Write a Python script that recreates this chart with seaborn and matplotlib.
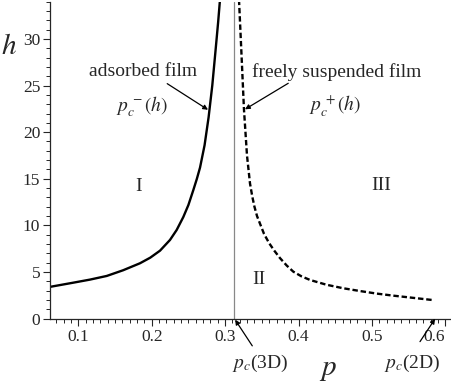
import numpy as np
import pandas as pd
import matplotlib
matplotlib.use("Agg")
import matplotlib.pyplot as plt
from matplotlib.ticker import MultipleLocator
import seaborn as sns

# -------------------------------------------------
# data
# -------------------------------------------------
# adsorbed film, p_c^-(h)
p_minus = [0.0614, 0.0932, 0.116, 0.1387, 0.161, 0.184, 0.198, 0.2113, 0.2249,
           0.234, 0.243, 0.250, 0.2567, 0.2615, 0.2658, 0.2720, 0.2775, 0.2825,
           0.2870, 0.2905, 0.2930]
h_minus = [3.42, 3.87, 4.20, 4.59, 5.20, 5.95, 6.55, 7.30, 8.45,
           9.52, 10.9, 12.2, 13.8, 15.0, 16.2, 18.6, 21.6, 25.0,
           28.8, 31.8, 34.2]

# freely suspended film, p_c^+(h)
p_plus = [0.3189, 0.3225, 0.3257, 0.3298, 0.3339, 0.3370, 0.3400, 0.3435, 0.3475,
          0.3530, 0.3600, 0.3670, 0.3748, 0.3840, 0.3929, 0.4040, 0.4157, 0.4380,
          0.4610, 0.4840, 0.5065, 0.5290, 0.5520, 0.5815]
h_plus = [34.2, 28.0, 22.4, 17.5, 14.5, 13.1, 12.0, 11.0, 10.2,
          9.1, 8.1, 7.3, 6.5, 5.7, 5.05, 4.55, 4.16, 3.65,
          3.27, 2.97, 2.70, 2.48, 2.28, 2.02]

pc_3d = 0.3116
pc_2d = 0.586   # where the arrow in the picture points

region_labels = ["I", "II", "III"]
region_p = [0.1818, 0.3466, 0.5133]
region_h = [14.2, 4.2, 14.3]

df_minus = pd.DataFrame({"p": p_minus, "h": h_minus})
df_plus = pd.DataFrame({"p": p_plus, "h": h_plus})

# -------------------------------------------------
# style
# -------------------------------------------------
sns.set_style("ticks")
plt.rcParams["font.family"] = ["Liberation Serif", "DejaVu Serif"]
plt.rcParams["mathtext.fontset"] = "stix"

fig = plt.figure(figsize=(4.52, 3.85), dpi=100)
ax = fig.add_axes([0.1106, 0.172, 0.8894, 0.824])

sns.lineplot(data=df_minus, x="p", y="h", color="black", linewidth=1.7, ax=ax)
sns.lineplot(data=df_plus, x="p", y="h", color="black", linewidth=1.7,
             linestyle=(0, (2.3, 1.2)), ax=ax)
ax.axvline(pc_3d, color="#888888", linewidth=0.9)

ax.set_xlim(0.0614, 0.6091)
ax.set_ylim(0, 34)
sns.despine(ax=ax)
for s in ["left", "bottom"]:
    ax.spines[s].set_linewidth(0.9)

ax.set_xticks([0.1, 0.2, 0.3, 0.4, 0.5, 0.6])
ax.set_xticklabels(["0.1", "0.2", "0.3", "0.4", "0.5", "0.6"])
ax.xaxis.set_minor_locator(MultipleLocator(0.01))
ax.yaxis.set_major_locator(MultipleLocator(5))
ax.yaxis.set_minor_locator(MultipleLocator(1))
ax.tick_params(which="major", length=5, width=0.8, labelsize=12.5, pad=2)
ax.tick_params(which="minor", length=3, width=0.7)

ax.set_xlabel("")
ax.set_ylabel("")
fig.text(0.726, 0.038, "$p$", fontsize=21, ha="center", va="center")
fig.text(0.020, 0.879, "$h$", fontsize=21, ha="center", va="center")

# -------------------------------------------------
# annotations
# -------------------------------------------------
arr = dict(arrowstyle="-|>", color="black", lw=0.9, mutation_scale=7,
           shrinkA=0, shrinkB=0)

ax.text(0.188, 26.45, "adsorbed film", fontsize=14, ha="center", va="center")
ax.text(0.1875, 22.7, "$p_c^{\\,-}(h)$", fontsize=14, ha="center", va="center")
ax.annotate("", xy=(0.2767, 22.4), xytext=(0.2211, 25.2), arrowprops=arr)

ax.text(0.4525, 26.45, "freely suspended film", fontsize=14, ha="center", va="center")
ax.text(0.4497, 22.9, "$p_c^{\\,+}(h)$", fontsize=14, ha="center", va="center")
ax.annotate("", xy=(0.3271, 22.45), xytext=(0.386, 25.24), arrowprops=arr)

for lab, px, hy in zip(region_labels, region_p, region_h):
    ax.text(px, hy, lab, fontsize=14, ha="center", va="center")

ax.text(0.3475, -4.75, "$p_c$(3D)", fontsize=14, ha="center", va="center")
ax.annotate("", xy=(pc_3d + 0.002, -0.1), xytext=(0.3370, -2.9),
            arrowprops=arr, annotation_clip=False)
ax.text(0.5550, -4.75, "$p_c$(2D)", fontsize=14, ha="center", va="center")
ax.annotate("", xy=(pc_2d, 0.0), xytext=(0.5655, -2.45),
            arrowprops=arr, annotation_clip=False)

# last tick label sits right at the edge, pull it in a touch
ax.get_xticklabels()[-1].set_horizontalalignment("right")
ax.get_xticklabels()[-1].set_x(0.6)

fig.savefig("out.png", dpi=100)
